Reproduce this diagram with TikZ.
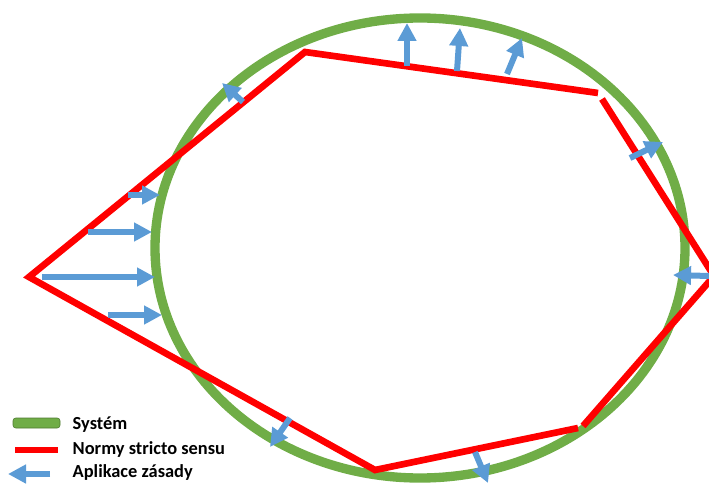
\documentclass[tikz,border=0pt]{standalone}
\usepackage{fontspec}
\setmainfont{Carlito}
\usepackage{tikz}
\usetikzlibrary{arrows.meta}
\definecolor{sysgreen}{HTML}{70AD47}
\definecolor{normred}{HTML}{FF0000}
\definecolor{aplblue}{HTML}{5B9BD5}

\begin{document}
\begin{tikzpicture}[x=0.75pt, y=-0.75pt,
    system/.style={draw=sysgreen, line width=7pt},
    norma/.style={draw=normred, line width=5pt},
    aplik/.style={draw=aplblue, line width=4.5pt, -{Triangle[length=13.5pt, width=13.5pt]}},
    popis/.style={anchor=base west, font=\bfseries\fontsize{13.8}{15}\selectfont}
]
\useasboundingbox (0,0) rectangle (709,484);

% 系（楕円）
\draw[system] (420,248) ellipse [x radius=265, y radius=230];

% 規範（多角形）
\coordinate (a) at (29,277);
\coordinate (b) at (305,52);
\coordinate (c1) at (598,93);
\coordinate (c2) at (602,99);
\coordinate (d) at (714,276);
\coordinate (e1) at (583,426);
\coordinate (e2) at (578,428);
\coordinate (f) at (375,470);
\draw[norma] (e2) -- (f) -- (a) -- (b) -- (c1);
\draw[norma] (c2) -- (d) -- (e1);

% 適用（矢印）
\foreach \y/\xs/\xe in {195/128/160, 232/88/152, 277/42/155, 315/108/162}
    \draw[aplik] (\xs,\y) -- (\xe,\y);
\draw[aplik] (243,102) -- (222,83);
\draw[aplik] (407,66) -- (407,23);
\draw[aplik] (457,71) -- (460,28);
\draw[aplik] (507,74) -- (522,38);
\draw[aplik] (630,158) -- (663,142);
\draw[aplik] (709,276) -- (673,275);
\draw[aplik] (290,418) -- (270,447);
\draw[aplik] (475,452) -- (488,483);

% 凡例
\draw[draw=sysgreen!70!black, fill=sysgreen, rounded corners=2pt] (13,418) rectangle (60,428);
\draw[norma] (15,450) -- (58,450);
\draw[aplik] (50,474) -- (8,474);
\node[popis] (lsys) at (68,429) {Systém};
\node[popis] (lnorm) at (68,454) {Normy stricto sensu};
\node[popis] (lapl) at (68,477) {Aplikace zásady};
\end{tikzpicture}
\end{document}
